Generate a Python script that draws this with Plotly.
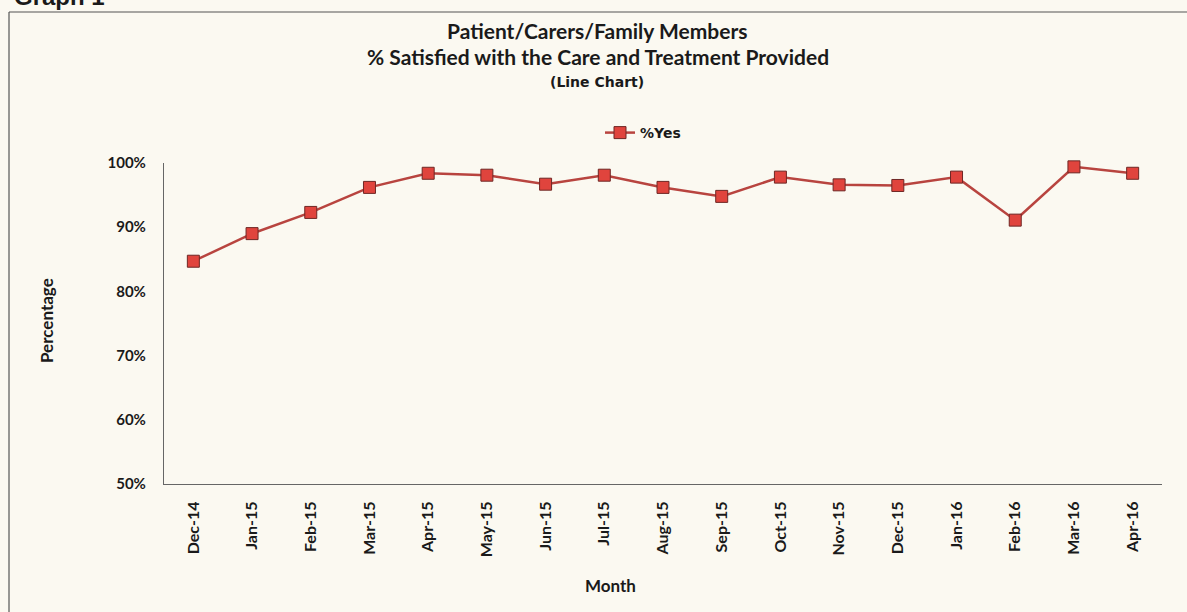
import plotly.graph_objects as go

months = ["Dec-14", "Jan-15", "Feb-15", "Mar-15", "Apr-15", "May-15", "Jun-15", "Jul-15",
          "Aug-15", "Sep-15", "Oct-15", "Nov-15", "Dec-15", "Jan-16", "Feb-16", "Mar-16", "Apr-16"]
pct_yes = [0.847, 0.890, 0.923, 0.962, 0.984, 0.981, 0.967, 0.981,
           0.962, 0.948, 0.978, 0.966, 0.965, 0.978, 0.911, 0.994, 0.984]
y_ticks = [0.5, 0.6, 0.7, 0.8, 0.9, 1.0]

W, H = 1187, 612
L, R, T, B = 164, 25, 163, 128
PW, PH = W - L - R, H - T - B

def px(x):
    return (x - L) / PW

def py(y):
    return (H - B - y) / PH

FONT = "Lato"
BG = "#FBF9F1"
TXT = "#1a1a1a"

def ann(text, x, y, size, family=FONT, angle=0, xanchor="center"):
    return dict(text=text, x=px(x), y=py(y), xref="paper", yref="paper",
                xanchor=xanchor, yanchor="middle", textangle=angle,
                font=dict(family=family, size=size, color=TXT), showarrow=False)

fig = go.Figure()
fig.add_trace(go.Scatter(
    x=months, y=pct_yes, mode="lines+markers", name="%Yes",
    line=dict(color="#B8443F", width=2.5),
    marker=dict(symbol="square", size=12, color="#E0443D",
                line=dict(color="#6E2724", width=1)),
    cliponaxis=False,
))

annotations = [
    ann("<b>Graph 1</b>", 12, -4, 24, family="Liberation Sans", xanchor="left"),
    ann("<b>Patient/Carers/Family Members</b>", 597, 31, 21),
    ann("<b>% Satisfied with the Care and Treatment Provided</b>", 598, 56, 21),
    ann("<b>(Line Chart)</b>", 597, 82, 14, family="DejaVu Sans"),
    ann("<b>Percentage</b>", 46, 321, 17, angle=-90),
    ann("<b>Month</b>", 610, 585, 17),
]

shapes = [
    dict(type="line", xref="paper", yref="paper", x0=px(9), x1=px(1200), y0=py(12), y1=py(12),
         line=dict(color="#555555", width=1.2)),
    dict(type="line", xref="paper", yref="paper", x0=px(9), x1=px(9), y0=py(12), y1=py(620),
         line=dict(color="#555555", width=1.2)),
]

fig.update_layout(
    width=W, height=H,
    margin=dict(l=L, r=R, t=T, b=B, pad=0),
    paper_bgcolor=BG, plot_bgcolor=BG,
    showlegend=True,
    legend=dict(x=px(600), y=py(133), xanchor="left", yanchor="middle",
                bgcolor="rgba(0,0,0,0)",
                font=dict(family="DejaVu Sans", size=14, color=TXT, weight="bold"),
                itemwidth=30, orientation="h"),
    annotations=annotations,
    shapes=shapes,
    font=dict(family=FONT, color=TXT),
)
fig.update_xaxes(
    type="category", categoryorder="array", categoryarray=months,
    showline=True, linecolor="#666666", linewidth=1.2, showgrid=False, zeroline=False,
    tickangle=-90, ticks="", tickfont=dict(family=FONT, size=16, color=TXT, weight="bold"),
    ticklabelstandoff=10, range=[-0.5, len(months) - 0.5],
)
fig.update_yaxes(
    range=[0.5, 1.0], tickvals=y_ticks, tickformat=".0%",
    showline=True, linecolor="#666666", linewidth=1.2, showgrid=False, zeroline=False,
    ticks="", tickfont=dict(family=FONT, size=15, color=TXT, weight="bold"),
    ticklabelstandoff=14,
)

fig.write_html("out.html")
